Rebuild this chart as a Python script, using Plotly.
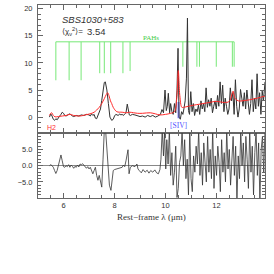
import plotly.graph_objects as go
from plotly.subplots import make_subplots

# ---- observed spectrum (rest-frame wavelength, flux) ----
wave_obs = [5.45, 5.50, 5.55, 5.60, 5.65, 5.70, 5.75, 5.80, 5.85, 5.90, 5.95, 6.00, 6.05, 6.10,
            6.15, 6.20, 6.25, 6.30, 6.35, 6.40, 6.50, 6.60, 6.70, 6.80, 6.90, 7.00, 7.05, 7.10,
            7.15, 7.20, 7.25, 7.30, 7.35, 7.40, 7.45, 7.50, 7.56, 7.60, 7.64, 7.70, 7.76, 7.82,
            7.89, 7.95, 8.00, 8.05, 8.10, 8.15, 8.20, 8.25, 8.30, 8.35, 8.40, 8.45, 8.50, 8.54,
            8.58, 8.62, 8.70, 8.80, 8.90, 9.00, 9.10, 9.20, 9.30, 9.40, 9.50, 9.60, 9.70, 9.80,
            9.86, 9.92, 9.98, 10.03, 10.07, 10.11, 10.16, 10.20, 10.25, 10.30, 10.35, 10.40,
            10.45, 10.49, 10.53, 10.58, 10.63, 10.68, 10.72, 10.77, 10.82, 10.86, 10.90, 10.94,
            10.99, 11.04, 11.09, 11.14, 11.19, 11.24, 11.29, 11.34, 11.39, 11.44, 11.49, 11.54,
            11.59, 11.64, 11.69, 11.74, 11.79, 11.84, 11.89, 11.94, 11.99, 12.04, 12.09, 12.14,
            12.19, 12.24, 12.29, 12.34, 12.39, 12.44, 12.49, 12.54, 12.59, 12.64, 12.69, 12.74,
            12.79, 12.84, 12.89, 12.94, 12.99, 13.04, 13.09, 13.14, 13.19, 13.24, 13.29, 13.34,
            13.39, 13.44, 13.49, 13.54, 13.59, 13.64, 13.69, 13.74, 13.79, 13.84, 13.90]
flux_obs = [0.0, 0.6, 0.2, -0.4, -0.6, -0.3, -0.5, 0.0, 0.2, 0.5, 0.9, 0.7, 0.3, 0.2,
            0.4, 0.5, 0.6, 0.3, 0.2, 0.1, 0.3, 0.2, 0.4, 0.3, 0.5, 0.4, 0.2, 0.6,
            0.3, 0.5, -0.2, -0.3, 0.2, 0.8, 1.5, 3.1, 5.9, 6.4, 6.5, 5.0, 2.5, 0.0,
            -0.6, -0.4, 0.2, 0.5, 0.4, 0.3, 0.6, 0.4, 0.5, 0.3, 0.6, 0.8, 2.4, 1.2,
            0.4, 0.3, 0.5, 0.4, 0.2, 0.1, 0.2, 0.0, 0.3, 0.1, 0.3, 0.0, 0.2, 0.5,
            1.4, 0.8, 5.0, 1.2, 2.0, 4.4, 0.8, 2.5, 1.0, 0.5, 2.5, 0.8,
            5.0, 12.7, 0.0, -0.4, 1.0, 0.5, 1.5, 3.0, 7.2, 18.3, 1.2, 0.5,
            4.7, 1.0, 2.5, 0.3, 1.5, 1.0, 2.2, 0.5, 3.0, 1.5, 2.5, 1.0,
            5.4, 1.8, 3.2, 2.0, 3.5, 0.8, 2.0, 3.0, 1.5, 4.0, 2.0, 6.5,
            2.5, 5.9, 1.0, 3.5, 2.0, 0.5, 1.5, 5.4, 3.0, 4.5, 0.5, 6.9,
            2.0, 0.0, 1.5, 5.1, 3.5, 2.0, 4.5, 1.5, 5.0, 3.0, 0.5, 2.5,
            6.9, 1.0, 3.5, 1.5, 8.0, 2.0, 4.5, 0.5, 4.8, 3.0, 6.5]

# ---- best-fit model ----
wave_mod = [5.45, 5.50, 5.54, 5.60, 5.67, 5.80, 5.95, 6.10, 6.25, 6.40, 6.65, 6.85, 7.04,
            7.20, 7.30, 7.40, 7.50, 7.60, 7.68, 7.73, 7.78, 7.84, 7.89, 7.95, 8.09, 8.30,
            8.48, 8.60, 8.75, 8.90, 9.10, 9.40, 9.60, 9.78, 10.00, 10.20, 10.35, 10.44,
            10.50, 10.56, 10.64, 10.70, 10.90, 11.10, 11.35, 11.60, 12.00, 12.30, 12.50,
            12.60, 12.65, 12.72, 12.85, 13.00, 13.30, 13.60, 13.90]
flux_mod = [0.3, 0.7, 0.8, 0.3, 0.05, 0.1, 0.2, 0.3, 0.5, 0.3, 0.2, 0.4, 0.6,
            0.9, 1.3, 1.8, 2.5, 3.4, 4.2, 4.5, 4.0, 3.0, 2.5, 1.8, 1.0, 0.9,
            0.8, 0.9, 0.8, 0.7, 0.7, 0.8, 0.6, 0.4, 0.5, 0.7, 1.0, 3.5,
            8.6, 4.0, 1.8, 1.8, 2.0, 2.2, 2.4, 2.6, 2.9, 2.7, 2.9,
            4.2, 4.8, 3.5, 3.0, 3.0, 3.2, 3.5, 3.9]

# ---- residuals ----
wave_res = [5.45, 5.50, 5.55, 5.60, 5.65, 5.70, 5.75, 5.80, 5.85, 5.90, 5.95, 6.00, 6.05, 6.10,
            6.15, 6.20, 6.25, 6.30, 6.35, 6.40, 6.45, 6.50, 6.55, 6.60, 6.65, 6.70, 6.75, 6.80,
            6.85, 6.90, 6.95, 7.00, 7.05, 7.10, 7.15, 7.20, 7.25, 7.30, 7.35, 7.40, 7.45, 7.50,
            7.55, 7.60, 7.65, 7.70, 7.75, 7.80, 7.86, 7.90, 7.95, 8.00, 8.10, 8.20, 8.30, 8.35,
            8.40, 8.45, 8.53, 8.57, 8.62, 8.70, 8.80, 8.88, 8.92, 8.97, 9.05, 9.12, 9.20, 9.28,
            9.35, 9.42, 9.50, 9.58, 9.65, 9.72, 9.78, 9.82, 9.87, 9.92, 9.96, 10.01, 10.05,
            10.10, 10.15, 10.20, 10.25, 10.30, 10.35, 10.40, 10.45, 10.50, 10.55, 10.60, 10.65,
            10.70, 10.75, 10.80, 10.85, 10.90, 10.95, 11.00, 11.05, 11.10, 11.15, 11.20, 11.25,
            11.30, 11.35, 11.40, 11.45, 11.50, 11.55, 11.60, 11.65, 11.70, 11.75, 11.80, 11.85,
            11.90, 11.95, 12.00, 12.05, 12.10, 12.15, 12.20, 12.25, 12.30, 12.35, 12.40, 12.45,
            12.50, 12.55, 12.60, 12.65, 12.70, 12.75, 12.80, 12.85, 12.90, 12.95, 13.00, 13.05,
            13.10, 13.15, 13.20, 13.25, 13.30, 13.35, 13.40, 13.45, 13.50, 13.55, 13.60, 13.65,
            13.70, 13.75, 13.80, 13.85, 13.90]
resid = [0.0, 0.3, 0.0, -0.5, -1.5, -2.4, -1.5, 0.0, 1.0, 3.3, 1.5, -0.3, -0.5, 0.0,
         -0.3, 0.3, -0.5, 0.2, -0.2, -0.8, -0.2, -0.5, 0.2, -0.4, 0.5, 0.3, 0.6, 0.0,
         -0.5, -0.8, -0.3, -1.0, -0.5, -1.8, -2.5, -1.5, -0.5, -3.0, -4.5, -3.0, -5.0, -6.6,
         2.0, 11.0, 11.0, 4.0, -3.0, -6.0, -7.6, -5.0, -1.5, -1.2, -1.0, -0.8, -0.5, 0.2,
         -0.3, 1.5, 4.9, -2.5, -0.5, 0.0, -0.3, 0.5, -1.0, -1.5, -2.2, -1.2, -2.0, -1.4,
         -2.3, -1.5, -2.0, -1.3, -2.2, -2.5, -1.2, 2.0, 11.0, 3.0, 10.5, -1.0, 8.0,
         0.5, 11.0, -3.0, 4.0, -6.0, -2.0, 6.0, -9.8, -7.0, 1.0, 3.0, 11.0,
         0.0, 8.0, -4.0, 2.0, -9.0, 11.0, -4.0, -8.0, 3.0, -2.0, 6.0, 0.5,
         11.0, -3.0, 4.0, -6.0, 7.0, 2.0, -5.0, 9.0, -2.0, 5.0, -4.0, 11.0,
         -7.0, 3.0, -3.0, 6.0, 1.0, -8.0, 8.0, -2.0, 4.0, -5.0, 11.0, -1.0,
         5.0, -6.0, 2.0, 9.0, -3.0, 6.0, -11.0, 3.0, -4.0, 11.0, 0.0, 7.0,
         -5.0, 9.0, 2.0, -7.0, 11.0, -2.0, 6.0, -9.0, 4.0, 11.0, -3.0, 7.0,
         -11.0, 5.0, 9.0, -2.0, 11.0]

# ---- PAH feature markers ----
pah_wave = [5.70, 6.22, 6.69, 7.42, 7.60, 7.85, 8.33, 8.61, 10.68, 11.23, 11.33, 11.99, 12.62, 12.69]
pah_low = [6.8, 6.8, 6.8, 8.1, 8.1, 8.1, 8.1, 8.5, 9.3, 9.3, 9.3, 9.3, 9.3, 9.3]
pah_top = 13.9
siv_wave = 10.51
siv_range = [-0.2, 2.8]

fig = make_subplots(rows=2, cols=1, shared_xaxes=True, vertical_spacing=0,
                    row_heights=[0.665, 0.335])

GREEN = '#77e877'
pah_x, pah_y = [], []
for w, lo in zip(pah_wave, pah_low):
    pah_x += [w, w, None]
    pah_y += [pah_top, lo, None]
pah_x += [pah_wave[0], pah_wave[-1]]
pah_y += [pah_top, pah_top]
fig.add_trace(go.Scatter(x=pah_x, y=pah_y, mode='lines',
                         line=dict(color=GREEN, width=1), hoverinfo='skip'), row=1, col=1)
fig.add_trace(go.Scatter(x=[siv_wave, siv_wave], y=siv_range, mode='lines',
                         line=dict(color='#8080ff', width=2), hoverinfo='skip'), row=1, col=1)
fig.add_trace(go.Scatter(x=wave_obs, y=flux_obs, mode='lines',
                         line=dict(color='#333333', width=1)), row=1, col=1)
fig.add_trace(go.Scatter(x=wave_mod, y=flux_mod, mode='lines', line_shape='spline',
                         line=dict(color='#ff2a2a', width=1)), row=1, col=1)
fig.add_trace(go.Scatter(x=wave_res, y=resid, mode='lines',
                         line=dict(color='#333333', width=0.8)), row=2, col=1)

FRAME = '#666666'
TICKFONT = dict(family='Liberation Sans, Arial, sans-serif', size=7.5, color='#333333')
xcommon = dict(range=[5.0, 13.9], showline=True, linecolor=FRAME, linewidth=1,
               mirror='allticks', ticks='inside', ticklen=5, tickcolor=FRAME,
               tick0=0, dtick=2, showgrid=False, zeroline=False,
               minor=dict(dtick=0.5, ticklen=3, ticks='inside', tickcolor=FRAME))
fig.update_xaxes(**xcommon, showticklabels=False, row=1, col=1)
fig.update_xaxes(**xcommon, showticklabels=True, tickfont=TICKFONT, row=2, col=1)

ycommon = dict(showline=True, linecolor=FRAME, linewidth=1, mirror='allticks',
               ticks='inside', ticklen=5, tickcolor=FRAME, tick0=0, dtick=5,
               showgrid=False, tickfont=TICKFONT, ticklabelstandoff=3,
               minor=dict(dtick=1, ticklen=3, ticks='inside', tickcolor=FRAME))
fig.update_yaxes(**ycommon, range=[-3, 20.7], zeroline=False, row=1, col=1)
fig.update_yaxes(**ycommon, range=[-9.95, 9.95], tickformat='.1f', zeroline=True,
                 zerolinecolor='#888888', zerolinewidth=1, row=2, col=1)

fig.add_annotation(x=5.86, y=18.1, xref='x', yref='y', text='<i>SBS1030+583</i>',
                   showarrow=False, xanchor='left', yanchor='middle',
                   font=dict(family='Liberation Sans, Arial, sans-serif', size=9.5, color='#333333'))
fig.add_annotation(x=5.86, y=15.8, xref='x', yref='y',
                   text='⟨χ<sub>ν</sub><sup>2</sup>⟩=',
                   showarrow=False, xanchor='left', yanchor='middle',
                   font=dict(family='Liberation Sans, Arial, sans-serif', size=8, color='#333333'))
fig.add_annotation(x=6.86, y=15.8, xref='x', yref='y', text='3.54',
                   showarrow=False, xanchor='left', yanchor='middle',
                   font=dict(family='Liberation Sans, Arial, sans-serif', size=9.5, color='#333333'))
fig.add_annotation(x=9.43, y=14.6, xref='x', yref='y', text='PAHs',
                   showarrow=False, xanchor='center', yanchor='middle',
                   font=dict(family='Liberation Serif, serif', size=7, color='#44cc44'))
fig.add_annotation(x=10.49, y=-1.5, xref='x', yref='y', text='[SIV]',
                   showarrow=False, xanchor='center', yanchor='middle',
                   font=dict(family='Liberation Serif, serif', size=7.5, color='#5050ff'))
fig.add_annotation(x=5.51, y=-1.85, xref='x', yref='y', text='H2',
                   showarrow=False, xanchor='center', yanchor='middle',
                   font=dict(family='Liberation Sans, Arial, sans-serif', size=7, color='#ff3030'))
fig.add_annotation(x=0.5, y=-0.098, xref='paper', yref='paper',
                   text='Rest−frame λ (μm)', showarrow=False,
                   xanchor='center', yanchor='middle',
                   font=dict(family='Liberation Serif, serif', size=9, color='#333333'))

fig.update_layout(width=274, height=274, autosize=False, showlegend=False,
                  margin=dict(l=38, r=9, t=5, b=76),
                  paper_bgcolor='white', plot_bgcolor='white')

fig.write_html('out.html', config={'displayModeBar': False},
               post_script="document.body.style.margin='0';")
